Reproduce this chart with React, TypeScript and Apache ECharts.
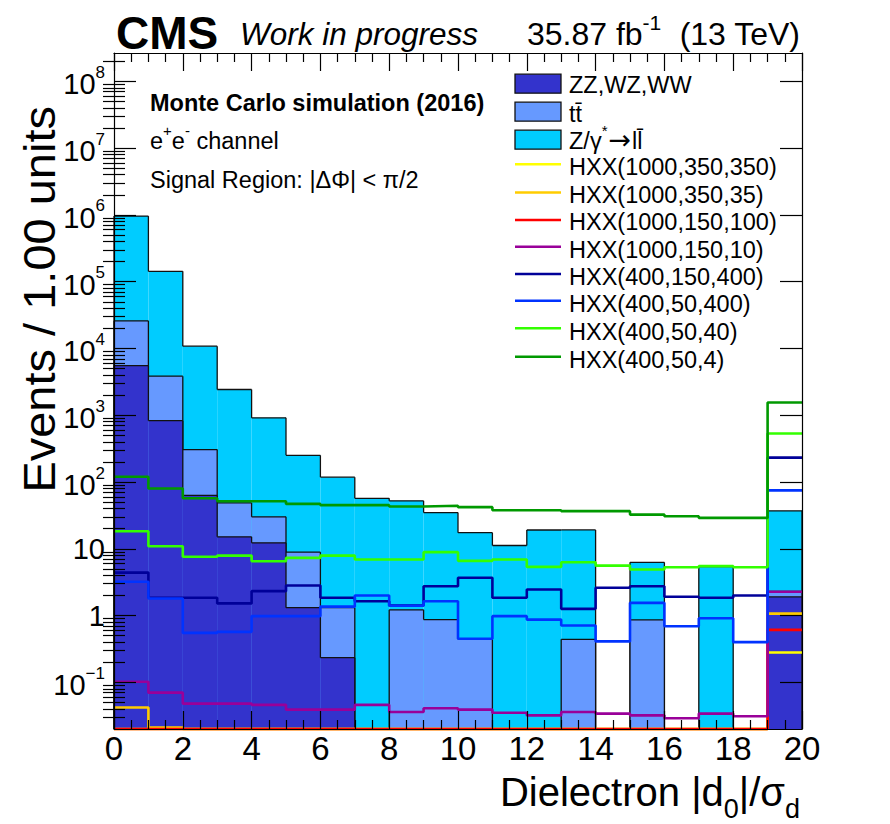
import React, { useEffect, useRef } from "react";
import * as echarts from "echarts";

// ---------------- data ----------------
const binLowEdges = [0, 1, 2, 3, 4, 5, 6, 7, 8, 9, 10, 11, 12, 13, 14, 15, 16, 17, 18, 19];
const BIN_WIDTH = 1;

// background processes, per bin (stack order: bottom -> top)
const dibosonZZWZWW = [5540, 830, 63, 15.1, 12.3, 1.31, 0.234, 0, 0, 0, 0, 0, 0, 0, 0, 0, 0, 0, 0, 1.9];
const ttbar = [20400, 3010, 243, 33.7, 17.8, 7.6, 1.08, 0, 1.22, 0.87, 0.44, 0, 0, 0.44, 0, 0.86, 0, 0, 0, 0.4];
const drellYan = [934000, 139000, 10500, 2380, 883, 242, 117, 57, 51, 34, 17, 11.2, 19.1, 18.7, 0, 5.4, 0, 5.4, 0, 34.7];

// signal samples, per bin
const hxx1000_350_350 = [0, 0, 0, 0, 0, 0, 0, 0, 0, 0, 0, 0, 0, 0, 0, 0, 0, 0, 0, 0.28];
const hxx1000_350_35 = [0.042, 0.021, 0, 0, 0, 0, 0, 0, 0, 0, 0, 0, 0, 0, 0, 0, 0, 0, 0, 1.07];
const hxx1000_150_100 = [0, 0, 0, 0, 0, 0, 0, 0, 0, 0, 0, 0, 0, 0, 0, 0, 0, 0, 0, 0.61];
const hxx1000_150_10 = [0.102, 0.07, 0.048, 0.048, 0.046, 0.039, 0.039, 0.046, 0.036, 0.041, 0.039, 0.035, 0.032, 0.036, 0.034, 0.032, 0.029, 0.034, 0.031, 2.27];
const hxx400_150_400 = [4.4, 1.85, 1.85, 1.52, 2.32, 2.82, 1.85, 1.64, 1.41, 2.75, 3.68, 1.85, 2.46, 1.26, 2.61, 2.75, 1.91, 1.85, 2.0, 232];
const hxx400_50_400 = [3.2, 1.8, 0.55, 0.57, 0.98, 0.98, 1.36, 2.0, 1.4, 1.64, 0.45, 0.98, 0.87, 0.71, 0.41, 1.55, 0.69, 0.91, 0.4, 75];
const hxx400_50_40 = [18.3, 10.9, 7.6, 7.9, 6.5, 7.3, 7.9, 6.9, 6.9, 8.9, 6.6, 6.9, 5.35, 6.3, 5.6, 4.9, 5.3, 5.5, 5.3, 532];
const hxx400_50_4 = [120, 80, 57, 51.6, 51.6, 47, 45, 45, 43, 44, 42, 37.8, 37.8, 36.6, 36.6, 32.5, 30.7, 29, 29, 1550];

// axis
const X_MIN = 0;
const X_MAX = 20;
const Y_MIN = 0.02;
const Y_MAX = 2.66e8;
const yMajorTicks = [0.1, 1, 10, 100, 1e3, 1e4, 1e5, 1e6, 1e7, 1e8];

// ---------------- styling ----------------
const FONT = "'Liberation Sans', Arial, Helvetica, sans-serif";
const C_ZZ = "#3333cc";
const C_TT = "#6699ff";
const C_DY = "#00ccff";

const signals = [
  { name: "HXX(1000,350,350)", values: hxx1000_350_350, color: "#ffff00" },
  { name: "HXX(1000,350,35)", values: hxx1000_350_35, color: "#ffcc00" },
  { name: "HXX(1000,150,100)", values: hxx1000_150_100, color: "#ff0000" },
  { name: "HXX(1000,150,10)", values: hxx1000_150_10, color: "#990099" },
  { name: "HXX(400,150,400)", values: hxx400_150_400, color: "#000099" },
  { name: "HXX(400,50,400)", values: hxx400_50_400, color: "#0033ff" },
  { name: "HXX(400,50,40)", values: hxx400_50_40, color: "#33ff00" },
  { name: "HXX(400,50,4)", values: hxx400_50_4, color: "#009900" },
];

const yMinorTicks: number[] = [];
for (let e = -2; e <= 8; e++) {
  for (let m = 2; m <= 9; m++) {
    const v = m * Math.pow(10, e);
    if (v > Y_MIN * 1.0001 && v < Y_MAX) yMinorTicks.push(v);
  }
}

const clampY = (v: number) => Math.max(v, Y_MIN);

const cumZZ = dibosonZZWZWW.map((v) => v);
const cumTT = cumZZ.map((v, i) => v + ttbar[i]);
const cumAll = cumTT.map((v, i) => v + drellYan[i]);

function histSeries(name: string, cum: number[], color: string, z: number) {
  return {
    type: "custom",
    name,
    z,
    silent: true,
    coordinateSystem: "cartesian2d",
    xAxisIndex: 0,
    yAxisIndex: 0,
    encode: { x: [0, 1], y: 2 },
    data: cum.map((v, i) => [
      binLowEdges[i],
      binLowEdges[i] + BIN_WIDTH,
      clampY(v),
      i + 1 < cum.length ? clampY(cum[i + 1]) : Y_MIN,
      i > 0 ? clampY(cum[i - 1]) : Y_MIN,
    ]),
    renderItem: (params: any, api: any) => {
      const x0 = api.value(0);
      const x1 = api.value(1);
      const v = api.value(2);
      const vn = api.value(3);
      const tl = api.coord([x0, v]);
      const tr = api.coord([x1, v]);
      const br = api.coord([x1, Y_MIN]);
      const bl = api.coord([x0, Y_MIN]);
      const nr = api.coord([x1, vn]);
      const lineStyle = { stroke: "#111", lineWidth: 1.3 };
      const children: any[] = [
        {
          type: "rect",
          z2: 0,
          shape: { x: tl[0], y: tl[1], width: br[0] - tl[0], height: br[1] - tl[1] },
          style: { fill: color },
        },
        { type: "line", z2: 1, shape: { x1: tl[0], y1: tl[1], x2: tr[0], y2: tr[1] }, style: lineStyle },
        { type: "line", z2: 1, shape: { x1: tr[0], y1: tr[1], x2: nr[0], y2: nr[1] }, style: lineStyle },
      ];
      if (params.dataIndex === 0) {
        children.push({ type: "line", z2: 1, shape: { x1: bl[0], y1: bl[1], x2: tl[0], y2: tl[1] }, style: lineStyle });
      }
      return { type: "group", children };
    },
  };
}

function yLabel(v: number) {
  const n = Math.round(Math.log10(v));
  if (n === 0) return "{p|1}";
  if (n === 1) return "{p|10}";
  const exp = n < 0 ? "\u2212" + String(-n) : String(n);
  return "{b|10}{s|" + exp + "}";
}

const axisLineStyle = { color: "#000", width: 1.2 };

const xAxisBase = {
  type: "value",
  min: X_MIN,
  max: X_MAX,
  interval: 2,
  z: 30,
  axisLine: { show: true, onZero: false, lineStyle: axisLineStyle },
  axisTick: { show: true, inside: true, length: 18, lineStyle: axisLineStyle },
  minorTick: { show: true, splitNumber: 4, length: 9, lineStyle: axisLineStyle },
  splitLine: { show: false },
  minorSplitLine: { show: false },
};

const yAxisBase = {
  type: "log",
  logBase: 10,
  min: Y_MIN,
  max: Y_MAX,
  z: 30,
  splitLine: { show: false },
};

// ---------------- legend (graphic) ----------------
const legendRows = [
  { label: "{n|ZZ,WZ,WW}", box: C_ZZ, textY: 81.7, markY: 83.7 },
  { label: "{n|tt\u0304}", box: C_TT, textY: 111, markY: 111.7 },
  { label: "{n|Z/\u03b3}{s|*}{a|\u2192}{n|ll\u0304}", box: C_DY, textY: 138, markY: 139.7 },
  ...signals.map((s, k) => ({
    label: "{n|" + s.name + "}",
    line: s.color,
    textY: [164.2, 191.7, 219.2, 246.8, 274.2, 301.2, 329, 356.7][k],
    markY: [164.3, 192.5, 220, 246.7, 274, 300.7, 328.3, 356.7][k],
  })),
];

const txtRich = {
  n: { fontSize: 23.5, fontFamily: FONT, fill: "#000", lineHeight: 30, verticalAlign: "bottom" },
  s: { fontSize: 15, fontFamily: FONT, fill: "#000", lineHeight: 15, verticalAlign: "top" },
  a: { fontSize: 27, fontFamily: "'DejaVu Sans', sans-serif", fill: "#000", lineHeight: 30, verticalAlign: "bottom", padding: [0, 1, 0, 1] },
};

const legendGraphics: any[] = [];
legendRows.forEach((r: any) => {
  if (r.box) {
    legendGraphics.push({
      type: "rect",
      shape: { x: 515, y: r.markY - 9.5, width: 46, height: 19 },
      style: { fill: r.box, stroke: "#111", lineWidth: 1.3 },
    });
  } else {
    legendGraphics.push({
      type: "line",
      shape: { x1: 515, y1: r.markY, x2: 561, y2: r.markY },
      style: { stroke: r.line, lineWidth: 2.6 },
    });
  }
  legendGraphics.push({
    type: "text",
    x: 569,
    y: r.textY,
    style: {
      text: r.label,
      fontSize: 23.5,
      fontFamily: FONT,
      fill: "#000",
      align: "left",
      verticalAlign: "middle",
      rich: txtRich,
    },
  });
});

const option: any = {
  animation: false,
  backgroundColor: "#fff",
  grid: { left: 114, top: 53, width: 688, height: 676, show: false, containLabel: false },
  xAxis: [
    {
      ...xAxisBase,
      position: "bottom",
      axisLabel: { show: true, fontSize: 33, fontFamily: FONT, color: "#000", margin: 3 },
    },
    { ...xAxisBase, position: "top", axisLabel: { show: false } },
  ],
  yAxis: [
    {
      ...yAxisBase,
      position: "left",
      axisLine: { show: true, onZero: false, lineStyle: axisLineStyle },
      axisTick: { show: true, inside: true, length: 22, customValues: yMajorTicks, lineStyle: axisLineStyle },
      axisLabel: {
        show: true,
        customValues: yMajorTicks,
        formatter: yLabel,
        margin: 9,
        color: "#000",
        fontFamily: FONT,
        fontSize: 29,
        rich: {
          p: { fontSize: 29, fontFamily: FONT, color: "#000" },
          b: { fontSize: 29, fontFamily: FONT, color: "#000", lineHeight: 35, verticalAlign: "bottom" },
          s: { fontSize: 17, fontFamily: FONT, color: "#000", lineHeight: 17, verticalAlign: "top" },
        },
      },
    },
    {
      ...yAxisBase,
      position: "left",
      axisLine: { show: false },
      axisTick: { show: true, inside: true, length: 11, customValues: yMinorTicks, lineStyle: axisLineStyle },
      axisLabel: { show: false },
    },
    {
      ...yAxisBase,
      position: "right",
      axisLine: { show: true, onZero: false, lineStyle: axisLineStyle },
      axisTick: { show: true, inside: true, length: 22, customValues: yMajorTicks, lineStyle: axisLineStyle },
      axisLabel: { show: false },
    },
    {
      ...yAxisBase,
      position: "right",
      axisLine: { show: false },
      axisTick: { show: true, inside: true, length: 11, customValues: yMinorTicks, lineStyle: axisLineStyle },
      axisLabel: { show: false },
    },
  ],
  series: [
    histSeries("Z/\u03b3*\u2192ll", cumAll, C_DY, 2),
    histSeries("tt", cumTT, C_TT, 3),
    histSeries("ZZ,WZ,WW", cumZZ, C_ZZ, 4),
    ...signals.map((s, k) => ({
      type: "line",
      name: s.name,
      xAxisIndex: 0,
      yAxisIndex: 0,
      step: "end",
      symbol: "none",
      showSymbol: false,
      silent: true,
      clip: false,
      z: 10 + k,
      lineStyle: { color: s.color, width: 2.6 },
      data: [
        ...s.values.map((v, i) => [binLowEdges[i], clampY(v)]),
        [binLowEdges[s.values.length - 1] + BIN_WIDTH, clampY(s.values[s.values.length - 1])],
      ],
    })),
  ],
  graphic: [
    {
      type: "text",
      x: 116,
      y: 32.5,
      style: { text: "CMS", fontSize: 46, fontWeight: "bold", fontFamily: FONT, fill: "#000", align: "left", verticalAlign: "middle" },
    },
    {
      type: "text",
      x: 240,
      y: 33.5,
      style: { text: "Work in progress", fontSize: 31.5, fontStyle: "italic", fontFamily: FONT, fill: "#000", align: "left", verticalAlign: "middle" },
    },
    {
      type: "text",
      x: 800,
      y: 31,
      style: {
        text: "{n|35.87 fb}{s|-1}{n|  (13 TeV)}",
        align: "right",
        verticalAlign: "middle",
        rich: {
          n: { fontSize: 32, fontFamily: FONT, fill: "#000", lineHeight: 38, verticalAlign: "bottom" },
          s: { fontSize: 21, fontFamily: FONT, fill: "#000", lineHeight: 21, verticalAlign: "top" },
        },
      },
    },
    {
      type: "text",
      x: 150,
      y: 103.3,
      style: { text: "Monte Carlo simulation (2016)", fontSize: 23.5, fontWeight: "bold", fontFamily: FONT, fill: "#000", align: "left", verticalAlign: "middle" },
    },
    {
      type: "text",
      x: 150,
      y: 138.3,
      style: { text: "{n|e}{s|+}{n|e}{s|-}{n| channel}", align: "left", verticalAlign: "middle", rich: txtRich },
    },
    {
      type: "text",
      x: 150,
      y: 180.3,
      style: { text: "Signal Region: |\u0394\u03a6| < \u03c0/2", fontSize: 23.5, fontFamily: FONT, fill: "#000", align: "left", verticalAlign: "middle" },
    },
    {
      type: "text",
      x: 40,
      y: 106,
      rotation: Math.PI / 2,
      scaleY: 0.93,
      style: { text: "Events / 1.00 units", fontSize: 47, fontFamily: FONT, fill: "#000", align: "right", verticalAlign: "middle" },
    },
    {
      type: "text",
      x: 800,
      y: 797,
      style: {
        text: "{m|Dielectron |d}{u|0}{m||/\u03c3}{u|d}",
        align: "right",
        verticalAlign: "middle",
        rich: {
          m: { fontSize: 40, fontFamily: FONT, fill: "#000", lineHeight: 40, verticalAlign: "top" },
          u: { fontSize: 27, fontFamily: FONT, fill: "#000", lineHeight: 50, verticalAlign: "bottom" },
        },
      },
    },
    ...legendGraphics,
  ],
};

export default function App() {
  const ref = useRef<HTMLDivElement>(null);
  useEffect(() => {
    if (!ref.current) return;
    const chart = echarts.init(ref.current, null, { renderer: "svg" });
    chart.setOption(option);
    return () => chart.dispose();
  }, []);
  return (
    <div
      ref={ref}
      style={{ position: "fixed", left: 0, top: 0, width: 890, height: 824, background: "#fff" }}
    />
  );
}
